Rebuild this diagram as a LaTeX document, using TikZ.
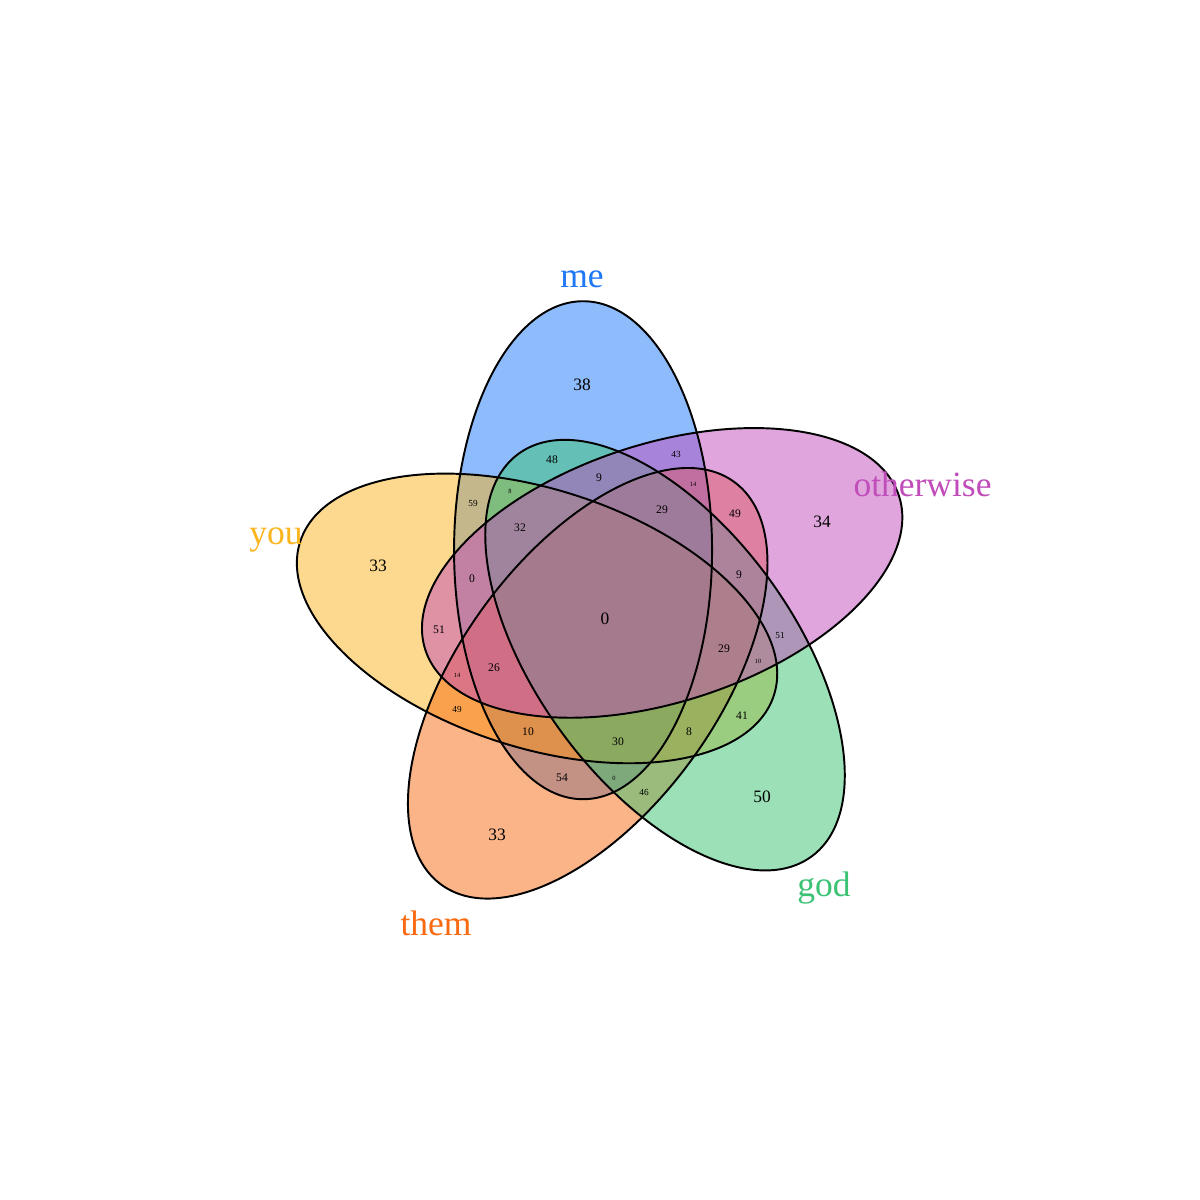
\documentclass[tikz,border=0pt]{standalone}
\usepackage{fontspec}
\setmainfont{Liberation Serif}
\usetikzlibrary{calc}
\definecolor{setblue}{HTML}{1E78F8}
\definecolor{setyellow}{HTML}{FBB51F}
\definecolor{setorange}{HTML}{F96A10}
\definecolor{setgreen}{HTML}{3BC373}
\definecolor{setpurple}{HTML}{C14DBB}
\begin{document}
\begin{tikzpicture}[
  setfill/.style={fill=#1, fill opacity=0.5, draw=none},
  setline/.style={draw=black, line width=0.55pt},
  catlabel/.style={text=#1, font=\fontsize{10.1}{12}\selectfont, inner sep=0pt, anchor=base},
  cntxl/.style={font=\fontsize{4.95}{6}\selectfont, inner sep=0pt},
  cntm/.style={font=\fontsize{3.3}{4}\selectfont, inner sep=0pt},
  cnts/.style={font=\fontsize{2.64}{3}\selectfont, inner sep=0pt},
  cntxs/.style={font=\fontsize{1.82}{2}\selectfont, inner sep=0pt}
]
\useasboundingbox (0,0) rectangle (12,12);
\fill[white] (0,0) rectangle (12,12);

% ellipse centres on a pentagon around the middle
\coordinate (O) at (6.07,5.84);
\foreach \nm/\k in {me/0,you/1,them/2,god/3,otherwise/4} {
  \pgfmathsetmacro{\ang}{110+72*\k}
  \coordinate (c-\nm) at ($(O)+(\ang:0.70)$);
}

% translucent fills first
\foreach \nm/\k/\col in {me/0/setblue,you/1/setyellow,them/2/setorange,god/3/setgreen,otherwise/4/setpurple} {
  \pgfmathsetmacro{\rot}{72*\k}
  \path[setfill=\col, shift={(c-\nm)}, rotate=\rot] (0,0) ellipse [x radius=1.29, y radius=2.49];
}
% then the outlines
\foreach \nm/\k in {me/0,you/1,them/2,god/3,otherwise/4} {
  \pgfmathsetmacro{\rot}{72*\k}
  \path[setline, shift={(c-\nm)}, rotate=\rot] (0,0) ellipse [x radius=1.29, y radius=2.49];
}

% set names
\node[catlabel=setblue] (l-me) at (5.82,9.12) {me};
\node[catlabel=setyellow] (l-you) at (2.76,6.55) {you};
\node[catlabel=setorange] (l-them) at (4.36,2.64) {them};
\node[catlabel=setgreen] (l-god) at (8.24,3.03) {god};
\node[catlabel=setpurple] (l-otherwise) at (9.225,7.03) {otherwise};

% region counts
\node[cntxl] (r1) at (5.82,8.15) {38};
\node[cntxl] (r2) at (3.78,6.34) {33};
\node[cntxl] (r3) at (8.22,6.78) {34};
\node[cntxl] (r4) at (7.62,4.03) {50};
\node[cntxl] (r5) at (4.97,3.65) {33};
\node[cntxl] (r6) at (6.05,5.81) {0};
\node[cntm] (r7) at (5.52,7.40) {48};
\node[cntm] (r8) at (5.99,7.22) {9};
\node[cnts] (r9) at (6.76,7.46) {43};
\node[cntxs] (r10) at (5.10,7.09) {8};
\node[cnts] (r11) at (4.73,6.97) {59};
\node[cntxs] (r12) at (6.93,7.16) {14};
\node[cntm] (r13) at (6.62,6.90) {29};
\node[cntm] (r14) at (7.35,6.86) {49};
\node[cntm] (r15) at (5.20,6.72) {32};
\node[cntm] (r16) at (4.72,6.21) {0};
\node[cntm] (r17) at (4.39,5.70) {51};
\node[cntxs] (r18) at (4.57,5.25) {14};
\node[cntm] (r19) at (4.94,5.32) {26};
\node[cnts] (r20) at (4.57,4.91) {49};
\node[cntm] (r21) at (5.28,4.68) {10};
\node[cntm] (r22) at (7.39,6.25) {9};
\node[cnts] (r23) at (7.80,5.65) {51};
\node[cntm] (r24) at (7.24,5.51) {29};
\node[cntxs] (r25) at (7.58,5.39) {10};
\node[cntm] (r26) at (7.42,4.84) {41};
\node[cntm] (r27) at (6.89,4.68) {8};
\node[cntm] (r28) at (6.18,4.58) {30};
\node[cntm] (r29) at (5.62,4.22) {54};
\node[cntxs] (r30) at (6.14,4.22) {0};
\node[cnts] (r31) at (6.44,4.08) {46};
\end{tikzpicture}
\end{document}
